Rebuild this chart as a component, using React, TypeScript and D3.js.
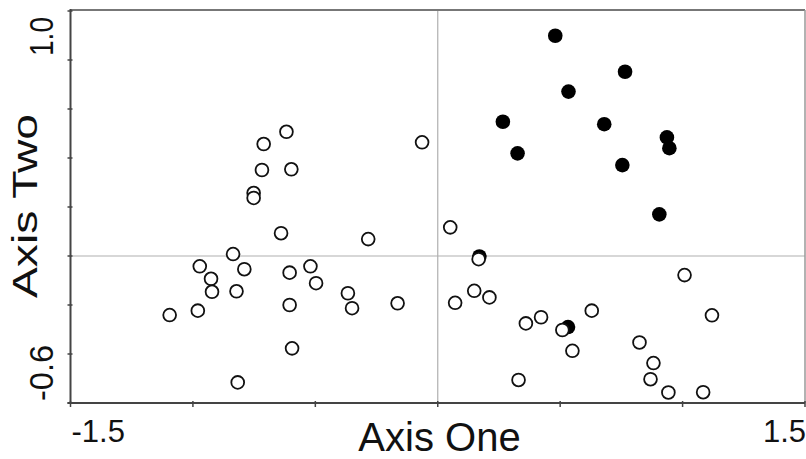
import React from "react";
import * as d3 from "d3";

const W = 806;
const H = 459;

// Group 1 (filled)
const filledX = [0.480, 0.765, 0.534, 0.266, 0.680, 0.936, 0.946, 0.326, 0.754, 0.905, 0.170, 0.532];
const filledY = [0.899, 0.752, 0.671, 0.548, 0.538, 0.484, 0.440, 0.419, 0.371, 0.170, -0.002, -0.290];

// Group 2 (open)
const openX = [
  -0.618, -0.711, -0.718, -0.598, -0.752, -0.752, -0.640, -0.836, -0.972, -0.790,
  -0.605, -0.520, -0.497, -0.926, -0.922, -0.822, -0.605, -0.367, -0.350, -0.164,
  -1.095, -0.980, -0.595, -0.817, -0.284, -0.064, 0.051,
  0.167, 0.071, 0.149, 0.211, 0.360, 0.422, 0.509, 0.550, 0.629, 0.330,
  0.824, 0.881, 0.869, 0.942, 1.084, 1.008, 1.120,
];
const openY = [
  0.507, 0.457, 0.351, 0.354, 0.257, 0.237, 0.093, 0.008, -0.042, -0.054,
  -0.068, -0.042, -0.111, -0.093, -0.146, -0.144, -0.200, -0.152, -0.213, -0.193,
  -0.241, -0.223, -0.377, -0.516, 0.069, 0.464, 0.117,
  -0.013, -0.191, -0.142, -0.169, -0.275, -0.250, -0.302, -0.387, -0.223, -0.506,
  -0.353, -0.437, -0.503, -0.557, -0.556, -0.078, -0.242,
];

const xDomain = [-1.5, 1.5];
const yDomain = [-0.6, 1.0];
const xTickValues = [-1.5, -1.0, -0.5, 0, 0.5, 1.0, 1.5];
const yTickValues = [-0.6, -0.4, -0.2, 0, 0.2, 0.4, 0.6, 0.8, 1.0];
const xTickLabels = ["-1.5", "1.5"];
const yTickLabels = ["-0.6", "1.0"];
const xTitle = "Axis One";
const yTitle = "Axis Two";

export default function App() {
  const left = 70.5, right = 805, top = 11, bottom = 403;
  const x = d3.scaleLinear().domain(xDomain).range([left, right]);
  const y = d3.scaleLinear().domain(yDomain).range([bottom, top]);
  const font = "'Liberation Sans', Arial, sans-serif";

  const filled = filledX.map((v, i) => [v, filledY[i]]);
  const open = openX.map((v, i) => [v, openY[i]]);

  return (
    <svg width={W} height={H} style={{ position: "absolute", left: 0, top: 0, background: "#fff" }}>
      <rect x={0} y={0} width={W} height={H} fill="#fff" />
      {/* zero reference lines */}
      <line x1={x(0)} x2={x(0)} y1={top} y2={bottom} stroke="#b0b0b0" strokeWidth={1.2} />
      <line x1={left} x2={right} y1={y(0)} y2={y(0)} stroke="#b0b0b0" strokeWidth={1.2} />
      {/* frame */}
      <line x1={left} x2={right} y1={top - 1} y2={top - 1} stroke="#777" strokeWidth={2} />
      <line x1={right} x2={right} y1={top - 1} y2={bottom} stroke="#999" strokeWidth={1.5} />
      <line x1={left} x2={left} y1={top - 2} y2={bottom + 1} stroke="#444" strokeWidth={2} />
      <line x1={left - 3} x2={right} y1={bottom} y2={bottom} stroke="#444" strokeWidth={2} />
      {/* ticks */}
      {yTickValues.map((t) => (
        <line key={"yt" + t} x1={left - 3} x2={left + 2} y1={y(t)} y2={y(t)} stroke="#444" strokeWidth={1.5} />
      ))}
      {xTickValues.map((t) => (
        <line key={"xt" + t} x1={x(t)} x2={x(t)} y1={bottom - 2} y2={bottom + 4} stroke="#444" strokeWidth={1.5} />
      ))}
      {/* tick labels */}
      <text x={left + 1} y={442} fontFamily={font} fontSize={31} fill="#111" textAnchor="start">{xTickLabels[0]}</text>
      <text x={W} y={442} fontFamily={font} fontSize={31} fill="#111" textAnchor="end">{xTickLabels[1]}</text>
      <text transform={`translate(53,${bottom - 2}) rotate(-90)`} fontFamily={font} fontSize={34} fill="#111" textAnchor="start" textLength={56} lengthAdjust="spacingAndGlyphs">{yTickLabels[0]}</text>
      <text transform={`translate(53,${top + 6}) rotate(-90)`} fontFamily={font} fontSize={34} fill="#111" textAnchor="end" textLength={39} lengthAdjust="spacingAndGlyphs">{yTickLabels[1]}</text>
      {/* axis titles */}
      <text x={439.5} y={451} fontFamily={font} fontSize={40} fill="#111" textAnchor="middle">{xTitle}</text>
      <text transform={`translate(37,298) rotate(-90)`} fontFamily={font} fontSize={35} fill="#111" textAnchor="start" textLength={184} lengthAdjust="spacingAndGlyphs">{yTitle}</text>
      {/* points */}
      {filled.map((p, i) => (
        <circle key={"f" + i} cx={x(p[0])} cy={y(p[1])} r={7.3} fill="#000" />
      ))}
      {open.map((p, i) => (
        <circle key={"o" + i} cx={x(p[0])} cy={y(p[1])} r={6.4} fill="#fff" stroke="#111" strokeWidth={1.8} />
      ))}
    </svg>
  );
}
